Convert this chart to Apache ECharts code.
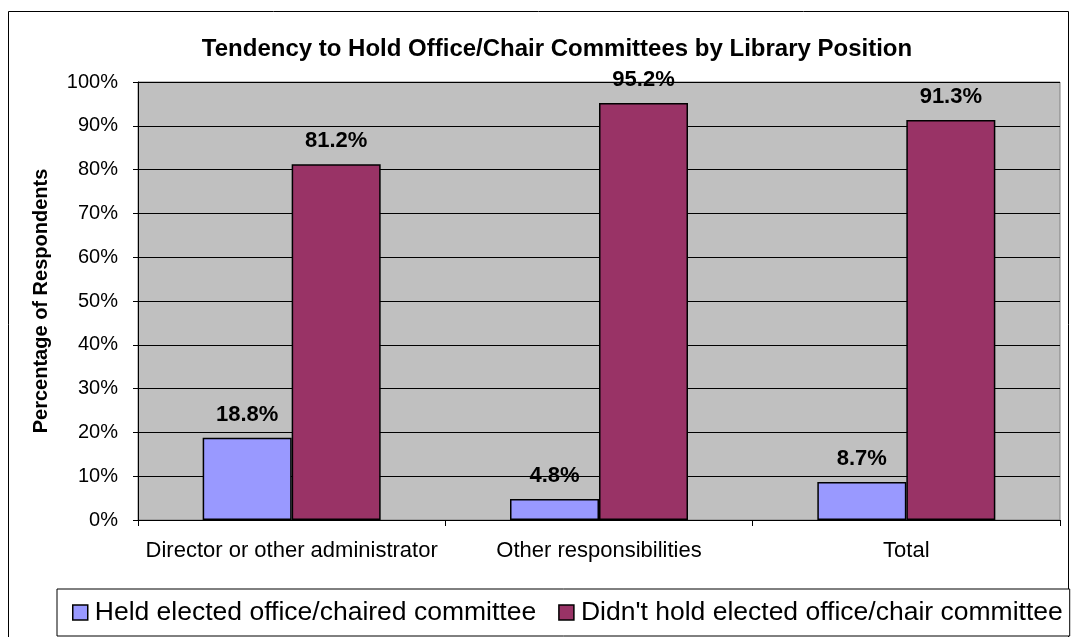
<!DOCTYPE html>
<html>
<head>
<meta charset="utf-8">
<script src="https://cdn.jsdelivr.net/npm/echarts@6/dist/echarts.min.js"></script>
<style>
  html, body { margin: 0; padding: 0; background: #fff; }
  #chart { width: 1077px; height: 637px; }
</style>
</head>
<body>
<div id="chart"></div>
<script>
const categories = ["Director or other administrator", "Other responsibilities", "Total"];
const heldOffice = [18.8, 4.8, 8.7];
const didntHold = [81.2, 95.2, 91.3];
const seriesNames = ["Held elected office/chaired committee", "Didn't hold elected office/chair committee"];

const font = "Liberation Sans, Arial, sans-serif";
const chart = echarts.init(document.getElementById("chart"));

const barLabel = {
  show: true,
  position: "top",
  distance: 12,
  fontFamily: font,
  fontSize: 22,
  fontWeight: "bold",
  color: "#000",
  formatter: (p) => p.value.toFixed(1) + "%",
};

chart.setOption({
  backgroundColor: "#fff",
  animation: false,
  textStyle: { fontFamily: font },
  title: {
    text: "Tendency to Hold Office/Chair Committees by Library Position",
    left: 552,
    top: 32,
    textAlign: "center",
    textStyle: { fontFamily: font, fontSize: 24, fontWeight: "bold", color: "#000" },
  },
  graphic: [
    {
      type: "rect",
      shape: { x: 8.5, y: 11.5, width: 1060, height: 640 },
      style: { fill: "none", stroke: "#000", lineWidth: 1 },
      silent: true,
    },
  ],
  legend: {
    left: 57,
    top: 589,
    padding: [10, 7, 10, 15],
    itemGap: 22,
    itemWidth: 15,
    itemHeight: 15,
    borderColor: "#000",
    borderWidth: 1,
    backgroundColor: "#fff",
    icon: "rect",
    textStyle: { fontFamily: font, fontSize: 26.5, color: "#000", padding: [0, 0, 0, 2] },
    itemStyle: { borderColor: "#000", borderWidth: 1.5 },
  },
  grid: {
    left: 138,
    right: 17,
    top: 82,
    bottom: 117,
    show: true,
    backgroundColor: "#c0c0c0",
    borderColor: "#808080",
    borderWidth: 1,
    containLabel: false,
  },
  xAxis: {
    type: "category",
    data: categories,
    axisLine: { show: true, lineStyle: { color: "#000", width: 1 } },
    axisTick: { show: true, length: 6, alignWithLabel: false, lineStyle: { color: "#000" } },
    axisLabel: { fontFamily: font, fontSize: 22, color: "#000", margin: 20, interval: 0 },
  },
  yAxis: {
    type: "value",
    min: 0,
    max: 100,
    interval: 10,
    name: "Percentage of Respondents",
    nameLocation: "middle",
    nameRotate: 90,
    nameGap: 87,
    nameTextStyle: { fontFamily: font, fontSize: 20, fontWeight: "bold", color: "#000" },
    axisLine: { show: true, lineStyle: { color: "#000", width: 1 } },
    axisTick: { show: true, length: 5, inside: false, lineStyle: { color: "#000" } },
    axisLabel: { fontFamily: font, fontSize: 20, color: "#000", margin: 20, formatter: "{value}%" },
    splitLine: { show: true, lineStyle: { color: "#000", width: 1 } },
  },
  series: [
    {
      name: seriesNames[0],
      type: "bar",
      data: heldOffice,
      barWidth: 89,
      barGap: "0%",
      itemStyle: { color: "#9999ff", borderColor: "#000", borderWidth: 1.5 },
      label: barLabel,
    },
    {
      name: seriesNames[1],
      type: "bar",
      data: didntHold,
      barWidth: 89,
      barGap: "0%",
      itemStyle: { color: "#993366", borderColor: "#000", borderWidth: 1.5 },
      label: barLabel,
    },
  ],
});
</script>
</body>
</html>
